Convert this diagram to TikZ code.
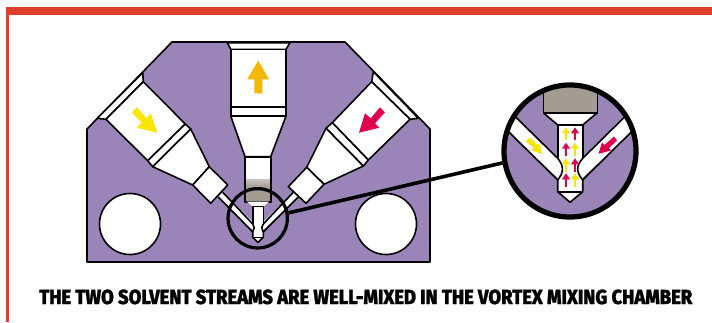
\documentclass[tikz,border=0pt]{standalone}
\usepackage{fontspec}
\usepackage{graphicx}
\usetikzlibrary{arrows.meta}
\newfontfamily\capfont[BoldFont={Fira Sans ExtraBold},BoldFeatures={FakeBold=1.2}]{Fira Sans}
\definecolor{purp}{HTML}{9B85B8}
\definecolor{frame}{HTML}{DE3F28}
\definecolor{gry}{HTML}{A39C92}
\definecolor{yel}{HTML}{F8E500}
\definecolor{org}{HTML}{F5B800}
\definecolor{rd}{HTML}{E0004D}
\tikzset{
  part/.style={draw=black,fill=white,line width=1.2pt,line join=round},
  open/.style={fill=white,draw=none},
  edge/.style={draw=black,line width=1.2pt,line join=round},
  ring/.style={circle,draw=black,inner sep=0pt},
  hole/.style={circle,draw=black,fill=white,inner sep=0pt,minimum size=45.75pt,line width=1.2pt},
  yup/.style={yel,line width=1.9pt,-{Triangle[length=4.5pt,width=5.8pt]}},
  rup/.style={rd,line width=1.9pt,-{Triangle[length=4.5pt,width=5.8pt]}},
}
\begin{document}
\begin{tikzpicture}[x=0.75pt,y=-0.75pt]
\useasboundingbox (0,0) rectangle (712,322);
\fill[white] (0,0) rectangle (712,322);
% frame
\fill[frame] (6,7) rectangle (712,15);
\fill[frame] (6,15) rectangle (9,322);
% body
\draw[fill=purp,line width=1.2pt,line join=round] (172,42) -- (345,42) -- (430,129) -- (430,262) -- (87,262) -- (87,129) -- cycle;
% holes
\node[hole] (holeL) at (130,224) {};
\node[hole] (holeR) at (386,224) {};
% left channel
\draw[part] (142.7,72.7) -- (97.3,118.3) -- (106,119.3) -- (143.3,81.7) -- cycle;
\draw[part] (143.3,81.7) -- (185.3,124) -- (147.7,160.7) -- (106,119.3) -- cycle;
\draw[part] (185.3,124) -- (190.7,129) -- (152.7,166.7) -- (147.7,160.7) -- cycle;
\draw[part] (190.7,129) -- (209.3,166.7) -- (192.7,185) -- (152.7,166.7) -- cycle;
% right channel
\draw[part] (373.3,71.7) -- (418.3,118.3) -- (410,119.3) -- (371.7,81.7) -- cycle;
\draw[part] (371.7,81.7) -- (410,119.3) -- (368.3,160) -- (332.3,122.7) -- cycle;
\draw[part] (332.3,122.7) -- (368.3,160) -- (363.3,166) -- (326,128.3) -- cycle;
\draw[part] (326,128.3) -- (363.3,166) -- (324,184.3) -- (306.7,167.3) -- cycle;
% centre column
\draw[part] (227.3,42.7) -- (290,42.7) -- (286,49.3) -- (230.7,49.3) -- cycle;
\draw[part] (230.7,49.3) rectangle (286,106.7);
\draw[part] (230.7,106.7) rectangle (286,116);
\draw[part] (230.7,116) -- (286,116) -- (270.7,156.7) -- (245,156.7) -- cycle;
\draw[part] (245,156.7) rectangle (270.7,201.7);
\shade[top color=gry!60!white,bottom color=gry,shading angle=0] (245.6,179.3) rectangle (270.1,187);
\fill[gry] (245.6,187) rectangle (270.1,201);
\draw[edge] (245,156.7) -- (245,201.7) -- (270.7,201.7) -- (270.7,156.7);
% small mixing chamber
\fill[white] (247,201.7) -- (269,201.7) -- (263.3,206.5) -- (252.7,206.5) -- cycle;
\fill[open] (222.7,192.3) -- (255,224) -- (255,232) -- (218.3,197) -- cycle;
\fill[open] (293.3,192.3) -- (261,224) -- (261,232) -- (298.3,197) -- cycle;
\fill[open] (252.7,206.5) -- (263.3,206.5) -- (263.3,237.3) -- (258,242.5) -- (252.7,237.3) -- cycle;
\draw[edge] (222.7,192.3) -- (252.7,224) .. controls (254.6,227) .. (252.7,232) -- (218.3,197);
\draw[edge] (293.3,192.3) -- (263.3,224) .. controls (261.4,227) .. (263.3,232) -- (298.3,197);
\draw[edge] (252.7,224) -- (252.7,206.5) -- (263.3,206.5) -- (263.3,224);
\draw[edge] (252.7,232) -- (252.7,237.3) -- (258,242.5) -- (263.3,237.3) -- (263.3,232);
\draw[edge] (252.7,237.3) -- (263.3,237.3);
% fitting squares
\draw[part] (209.3,166.7) -- (227.7,185) -- (210.7,203.3) -- (192.7,185) -- cycle;
\draw[part] (306.7,167.3) -- (324,184.3) -- (306,203.3) -- (288.3,186.7) -- cycle;
% big arrows
\fill[yel] (131.7,112.3) -- (136.7,107.3) -- (146.7,118.3) -- (150.7,113.3) -- (157.3,132.7) -- (136.7,127.7) -- (141.7,122.7) -- cycle;
\fill[org] (258.3,60.7) -- (269,79.3) -- (262.3,79.3) -- (262.3,93.3) -- (254.3,93.3) -- (254.3,79.3) -- (247.3,79.3) -- cycle;
\fill[rd] (359,132.7) -- (365,113.3) -- (370.7,118.3) -- (380,107.3) -- (385,112.3) -- (375,123.3) -- (379.3,127.7) -- cycle;
% enlarged view
\fill[purp] (570,151) circle (66);
\begin{scope}
\clip (570,151) circle (66);
\fill[open] (516.7,118.3) -- (560,160) -- (560,180) -- (510,133.3) -- (500,123) -- (507,108) -- cycle;
\fill[open] (623.3,118.3) -- (580,160) -- (580,180) -- (630,133.3) -- (640,123) -- (633,108) -- cycle;
\fill[open] (543.3,112.7) -- (597.3,112.7) -- (582.7,125) -- (582.7,191.7) -- (570,202.3) -- (557.7,191.7) -- (557.7,125) -- cycle;
\draw[edge] (506,107.6) -- (557.7,158.3) .. controls (564,166) and (564,172) .. (557.7,180) -- (500,123.3);
\draw[edge] (634,107.6) -- (582.7,158.3) .. controls (576,166) and (576,172) .. (582.7,180) -- (640,123.3);
\draw[edge] (557.7,158.3) -- (557.7,125) -- (582.7,125) -- (582.7,158.3);
\draw[edge] (557.7,180) -- (557.7,191.7) -- (570,202.3) -- (582.7,191.7) -- (582.7,180);
\draw[edge] (557.7,191.7) -- (582.7,191.7);
\draw[edge] (557.7,125) -- (543.3,112.7);
\draw[edge] (582.7,125) -- (597.3,112.7);
\draw[edge,fill=gry] (543.3,70) rectangle (597.3,112.7);
\end{scope}
\fill[yel] (526,141.5) -- (529.5,137.5) -- (537.5,145) -- (539.5,143) -- (542,153.8) -- (531.5,150.5) -- (534,147.8) -- cycle;
\fill[rd] (614,136.5) -- (617,140.5) -- (609,148) -- (611,150.5) -- (598.5,153.8) -- (602,142.5) -- (604.5,145) -- cycle;
\draw[yup] (566,140) -- (566,127.3);
\draw[rup] (575,140) -- (575,127.3);
\draw[rup] (566,156) -- (566,142.7);
\draw[yup] (575,156) -- (575,142.7);
\draw[yup] (566,171.7) -- (566,158.3);
\draw[rup] (575,171.7) -- (575,158.3);
\draw[rup] (566,186.7) -- (566,173.3);
\draw[yup] (575,186.7) -- (575,173.3);
% rings and connector
\node[ring,line width=2.4pt,minimum size=44.5pt] (lens) at (257.7,218.3) {};
\node[ring,line width=3.9pt,minimum size=99pt] (bigc) at (570,151) {};
\draw[line width=2.7pt] (lens.10) -- (bigc.190);
% caption
\node[anchor=base west,inner sep=0pt] (caption) at (39,304) {\resizebox{489.75pt}{10.9pt}{\capfont\bfseries THE TWO SOLVENT STREAMS ARE WELL-MIXED IN THE VORTEX MIXING CHAMBER}};
\end{tikzpicture}
\end{document}
